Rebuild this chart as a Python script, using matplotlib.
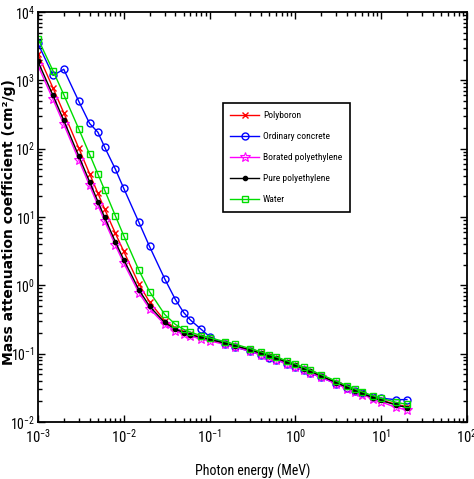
import matplotlib
matplotlib.use("Agg")
import matplotlib.pyplot as plt
from matplotlib.ticker import LogLocator, NullFormatter

energy = [0.001, 0.0015, 0.002, 0.003, 0.004, 0.005, 0.006, 0.008, 0.01, 0.015,
          0.02, 0.03, 0.04, 0.05, 0.06, 0.08, 0.1, 0.15, 0.2, 0.3, 0.4, 0.5,
          0.6, 0.8, 1.0, 1.25, 1.5, 2.0, 3.0, 4.0, 5.0, 6.0, 8.0, 10.0, 15.0, 20.0]

polyboron = [2420, 770, 335, 101, 43.0, 22.2, 13.0, 5.75, 3.15, 1.05,
             0.57, 0.305, 0.236, 0.207, 0.192, 0.1735, 0.162, 0.1428, 0.1302, 0.1128, 0.101, 0.0922,
             0.0853, 0.0749, 0.0674, 0.0602, 0.0548, 0.0471, 0.0378, 0.0324, 0.0288, 0.0263, 0.0230, 0.0209, 0.0181, 0.0168]

concrete = [3466, 1180, 1450, 490, 234, 174, 105, 50.0, 26.3, 8.4,
            3.7, 1.25, 0.62, 0.40, 0.31, 0.227, 0.178, 0.139, 0.1247, 0.1078, 0.0963, 0.0877,
            0.0812, 0.0713, 0.0641, 0.0573, 0.0521, 0.0448, 0.0364, 0.0315, 0.0284, 0.0262, 0.0236, 0.0223, 0.0212, 0.0213]

borated_pe = [1650, 525, 228, 68.0, 28.9, 14.9, 8.7, 3.85, 2.12, 0.78,
              0.455, 0.268, 0.216, 0.193, 0.180, 0.1645, 0.154, 0.1365, 0.1245, 0.1078, 0.0966, 0.0882,
              0.0815, 0.0716, 0.0644, 0.0576, 0.0524, 0.0450, 0.0361, 0.0309, 0.0275, 0.0251, 0.0219, 0.0197, 0.0163, 0.0150]

pure_pe = [1894, 599.6, 259.3, 77.43, 32.77, 16.84, 9.839, 4.319, 2.376, 0.8656,
           0.4951, 0.2859, 0.2281, 0.2031, 0.1893, 0.1727, 0.1617, 0.1432, 0.1306, 0.1131, 0.1013, 0.09244,
           0.08549, 0.07508, 0.06753, 0.06037, 0.05493, 0.04716, 0.03783, 0.03236, 0.02874, 0.02618, 0.0228, 0.02066, 0.01771, 0.01624]

water = [4078, 1376, 617.3, 192.9, 82.78, 42.58, 24.64, 10.37, 5.329, 1.673,
         0.8096, 0.3756, 0.2683, 0.2269, 0.2059, 0.1837, 0.1707, 0.1505, 0.137, 0.1186, 0.1061, 0.09687,
         0.08956, 0.07865, 0.07072, 0.06323, 0.05754, 0.04942, 0.03969, 0.03403, 0.03031, 0.0277, 0.02429, 0.02219, 0.01941, 0.01813]

labels = ["Polyboron", "Ordinary concrete", "Borated polyethylene", "Pure polyethylene", "Water"]
xlabel = "Photon energy (MeV)"
ylabel = "Mass attenuation coefficient (cm²/g)"

narrow = ["Roboto Condensed", "Liberation Sans Narrow", "Liberation Sans", "DejaVu Sans"]
plt.rcParams["font.family"] = narrow
plt.rcParams["mathtext.fontset"] = "custom"
plt.rcParams["mathtext.rm"] = "Roboto Condensed"
plt.rcParams["mathtext.it"] = "Roboto Condensed"

fig = plt.figure(figsize=(4.74, 4.79), dpi=100)
ax = fig.add_axes([0.080, 0.119, 0.905, 0.856])

styles = [
    dict(color="#ff0000", marker="x", ms=4, mew=1.0, mfc="none"),
    dict(color="#0000ff", marker="o", ms=5, mew=1.0, mfc="none"),
    dict(color="#ff00ff", marker="*", ms=7, mew=0.8, mfc="none"),
    dict(color="#000000", marker="o", ms=3, mew=1.0, mfc="#000000"),
    dict(color="#00dd00", marker="s", ms=4, mew=1.0, mfc="none"),
]
series = [polyboron, concrete, borated_pe, pure_pe, water]
for ys, lab, st in zip(series, labels, styles):
    ax.plot(energy, ys, lw=1.0, label=lab, **st)

ax.set_xscale("log")
ax.set_yscale("log")
ax.set_xlim(1e-3, 1e2)
ax.set_ylim(1e-2, 1e4)

for a in (ax.xaxis, ax.yaxis):
    a.set_major_locator(LogLocator(base=10, numticks=20))
    a.set_minor_locator(LogLocator(base=10, subs=range(2, 10), numticks=20))
    a.set_minor_formatter(NullFormatter())

ax.tick_params(which="both", direction="in", top=True, right=True, width=1.0)
ax.tick_params(which="major", length=5)
ax.tick_params(axis="x", which="major", pad=4, labelsize=10.5)
ax.tick_params(axis="y", which="major", pad=2, labelsize=10)
ax.tick_params(which="minor", length=3)
for s in ax.spines.values():
    s.set_linewidth(1.3)

ax.set_xlabel(xlabel, fontsize=10)
ax.xaxis.set_label_coords(0.5, -0.102)
ax.set_ylabel(ylabel, fontsize=10, fontweight="bold", family=["DejaVu Sans"])
ax.yaxis.label.set_rotation_mode("default")
ax.yaxis.label.set_horizontalalignment("right")
ax.yaxis.label.set_verticalalignment("center")
ax.yaxis.set_label_coords(-0.052, 0.488)

leg = ax.legend(loc="upper left", bbox_to_anchor=(0.431, 0.777), fancybox=False,
                edgecolor="black", framealpha=1, prop={"size": 6.8},
                handlelength=3.0, labelspacing=1.28, borderpad=0.8, handletextpad=0.45,
                borderaxespad=0.0)
leg.get_frame().set_linewidth(1.2)

fig.savefig("out.png", dpi=100)
